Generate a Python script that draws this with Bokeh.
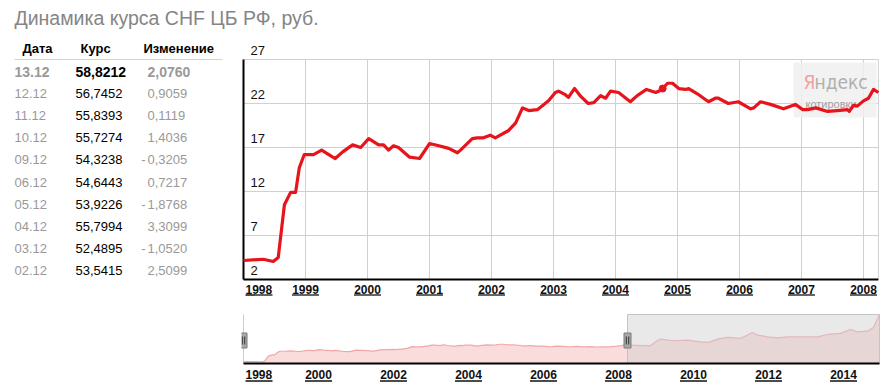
from bokeh.plotting import figure
from bokeh.layouts import column, row
from bokeh.models import Range1d
from bokeh.core.properties import value
from bokeh.embed import file_html
from bokeh.resources import INLINE

# ---------------- data ----------------
title_text = "Динамика курса CHF ЦБ РФ, руб."
header = ["Дата", "Курс", "Изменение"]
table_dates = ["13.12", "12.12", "11.12", "10.12", "09.12", "06.12", "05.12", "04.12", "03.12", "02.12"]
table_rates = ["58,8212", "56,7452", "55,8393", "55,7274", "54,3238", "54,6443", "53,9226", "55,7994", "52,4895", "53,5415"]
table_changes = [2.0760, 0.9059, 0.1119, 1.4036, -0.3205, 0.7217, -1.8768, 3.3099, -1.0520, 2.5099]

main_years = [1998.00, 1998.32, 1998.48, 1998.56, 1998.66, 1998.76, 1998.84, 1998.90, 1998.98,
              1999.13, 1999.26, 1999.44, 1999.48, 1999.60, 1999.76, 1999.89, 2000.02, 2000.18,
              2000.26, 2000.34, 2000.42, 2000.50, 2000.68, 2000.84, 2001.00, 2001.15, 2001.31,
              2001.45, 2001.50, 2001.69, 2001.77, 2001.87, 2001.98, 2002.06, 2002.27, 2002.39,
              2002.50, 2002.60, 2002.74, 2002.92, 2003.03, 2003.08, 2003.19, 2003.24, 2003.34,
              2003.44, 2003.56, 2003.65, 2003.76, 2003.84, 2003.92, 2004.05, 2004.24, 2004.35,
              2004.50, 2004.65, 2004.73, 2004.84, 2004.92, 2005.02, 2005.13, 2005.18, 2005.32,
              2005.50, 2005.61, 2005.66, 2005.82, 2005.98, 2006.18, 2006.23, 2006.34, 2006.50,
              2006.71, 2006.90, 2007.02, 2007.10, 2007.23, 2007.42, 2007.58, 2007.74, 2007.77,
              2007.84, 2007.90, 2008.00, 2008.08, 2008.16, 2008.24]
main_values = [4.16, 4.3, 4.05, 4.5, 10.5, 11.9, 11.9, 14.7, 16.2,
               16.2, 16.7, 15.9, 15.75, 16.5, 17.3, 17.0, 18.0, 17.3,
               17.3, 16.7, 17.2, 17.0, 15.9, 15.75, 17.45, 17.2, 16.9,
               16.4, 16.7, 18.0, 18.1, 18.1, 18.4, 18.1, 18.9, 19.8,
               21.5, 21.2, 21.3, 22.3, 23.25, 23.4, 23.0, 22.7, 23.7,
               22.8, 22.0, 22.1, 22.9, 22.6, 23.4, 23.25, 22.2, 22.9,
               23.6, 23.25, 23.5, 24.3, 24.3, 23.7, 23.6, 23.7, 23.1,
               22.2, 22.6, 22.6, 22.0, 22.2, 21.4, 21.5, 22.2, 21.9,
               21.4, 21.9, 21.3, 21.3, 21.5, 21.1, 21.2, 21.3, 21.1,
               21.8, 21.7, 22.3, 22.6, 23.6, 23.25]

nav_ext_years = [2008.29, 2008.85, 2008.99, 2009.12, 2009.47, 2009.84, 2010.19, 2010.40, 2010.64,
                 2010.91, 2011.25, 2011.57, 2011.71, 2011.97, 2012.24, 2012.51, 2012.85, 2013.31,
                 2013.57, 2013.92, 2014.19, 2014.37, 2014.64, 2014.80, 2014.96]
nav_ext_values = [23.3, 22.5, 27.1, 30.2, 28.3, 29.0, 27.1, 26.4, 30.2,
                  32.2, 31.0, 37.9, 34.8, 32.9, 31.7, 32.9, 32.9, 32.9,
                  35.6, 36.8, 41.4, 38.6, 39.4, 43.7, 58.7]

y_ticks = [2, 7, 12, 17, 22, 27]
main_year_ticks = list(range(1998, 2009))
nav_year_ticks = list(range(1998, 2015, 2))
marker_year = [2004.76]
marker_value = [23.7]

# ---------------- style / layout constants ----------------
FONT = value("Liberation Sans")
NARROW = value("'DejaVu Sans Condensed', 'Liberation Sans'")
RED = "#e8141c"
GRID = "#d0d0d0"
LEFT_W = 241
RIGHT_W = 644
TITLE_H = 35
MAIN_H = 265
NAV_H = 85

def lin(v0, p0, ppu, p, invert=False):
    return v0 + ((p0 - p) if invert else (p - p0)) / ppu

def bare(fig):
    fig.grid.visible = False
    fig.outline_line_color = None
    return fig

def mkfig(w, h, xr, yr):
    return bare(figure(width=w, height=h, output_backend="svg", toolbar_location=None,
                       x_range=xr, y_range=yr, x_axis_location=None, y_axis_location=None,
                       min_border=0, min_border_left=0, min_border_right=0,
                       min_border_top=0, min_border_bottom=0))

# ---------------- title figure ----------------
tf = mkfig(LEFT_W + RIGHT_W, TITLE_H, Range1d(0, LEFT_W + RIGHT_W), Range1d(TITLE_H, 0))
tf.text(x=[14], y=[17], text=[title_text], text_font=FONT, text_font_size=value("19.5px"),
        text_color="#858585", text_baseline="middle", text_align="left")

# ---------------- table figure ----------------
lf = mkfig(LEFT_W, MAIN_H + NAV_H, Range1d(0, LEFT_W), Range1d(TITLE_H + MAIN_H + NAV_H, TITLE_H))
HDR_Y = 48
ROW0 = 71
ROW_H = 22.1
COL_X = [22, 80, 143]
lf.text(x=COL_X, y=[HDR_Y] * 3, text=header, text_font=FONT, text_font_size=value("13px"),
        text_font_style="bold", text_color="#000000", text_baseline="middle", text_align="left")
lf.segment(x0=[14], y0=[59], x1=[222], y1=[59], line_color="#d4d4d4", line_width=1)

rows_y = [ROW0 + i * ROW_H for i in range(len(table_dates))]
chg_txt = [f"{abs(v):.4f}".replace(".", ",") for v in table_changes]
for i in range(len(table_dates)):
    first = i == 0
    fs = value("14px") if first else value("13px")
    st = "bold" if first else "normal"
    y = rows_y[i]
    lf.text(x=[14], y=[y], text=[table_dates[i]], text_font=FONT, text_font_size=fs,
            text_font_style=st, text_color="#999999", text_baseline="middle", text_align="left")
    lf.text(x=[75], y=[y], text=[table_rates[i]], text_font=FONT, text_font_size=fs,
            text_font_style=st, text_color="#000000", text_baseline="middle", text_align="left")
    lf.text(x=[147], y=[y], text=[chg_txt[i]], text_font=FONT, text_font_size=fs,
            text_font_style=st, text_color="#999999", text_baseline="middle", text_align="left")
    if table_changes[i] < 0:
        lf.text(x=[145], y=[y], text=["-"], text_font=FONT, text_font_size=fs,
                text_font_style=st, text_color="#999999", text_baseline="middle", text_align="right")

# ---------------- main chart ----------------
MX0, MPX0, MPPU = 1998.0, 243, 62.0
MY0, MPY0, MYPPU = 2.0, 279, 8.8
X_END = main_years[-1]
mf = mkfig(RIGHT_W, MAIN_H,
           Range1d(lin(MX0, MPX0, MPPU, LEFT_W), lin(MX0, MPX0, MPPU, LEFT_W + RIGHT_W)),
           Range1d(lin(MY0, MPY0, MYPPU, TITLE_H + MAIN_H, True), lin(MY0, MPY0, MYPPU, TITLE_H, True)))
ytop = y_ticks[-1]
ybot = y_ticks[0]
# grid
mf.segment(x0=[MX0] * (len(y_ticks) - 1), y0=y_ticks[1:], x1=[X_END] * (len(y_ticks) - 1), y1=y_ticks[1:],
           line_color=GRID, line_width=1)
mf.segment(x0=main_year_ticks[1:] + [X_END], y0=[ybot] * len(main_year_ticks),
           x1=main_year_ticks[1:] + [X_END], y1=[ytop] * len(main_year_ticks),
           line_color=GRID, line_width=1)
# Yandex watermark box
wx = lin(MX0, MPX0, MPPU, 834.5)
wy = lin(MY0, MPY0, MYPPU, 89.5, True)
mf.rect(x=[wx], y=[wy], width=83, height=55, width_units="screen", height_units="screen",
        fill_color="#f0f0f0", fill_alpha=0.85, line_color=None)
mf.text(x=[lin(MX0, MPX0, MPPU, 803)], y=[lin(MY0, MPY0, MYPPU, 81, True)], text=["Я"],
        text_font=NARROW, text_font_size=value("19px"),
        text_color="#f2a0a0", text_baseline="middle", text_align="left")
mf.text(x=[lin(MX0, MPX0, MPPU, 814)], y=[lin(MY0, MPY0, MYPPU, 81, True)], text=["ндекс"],
        text_font=NARROW, text_font_size=value("19px"),
        text_color="#b0b0b0", text_baseline="middle", text_align="left")
mf.text(x=[lin(MX0, MPX0, MPPU, 805)], y=[lin(MY0, MPY0, MYPPU, 103, True)], text=["котировки"],
        text_font=FONT, text_font_size=value("11px"),
        text_color="#a0a0a0", text_baseline="middle", text_align="left")
# axes lines
mf.segment(x0=[MX0], y0=[ybot], x1=[MX0], y1=[ytop], line_color="#000000", line_width=2)
mf.segment(x0=[MX0], y0=[ybot], x1=[X_END], y1=[ybot], line_color="#000000", line_width=2)
# series
mf.line(main_years, main_values, line_color=RED, line_width=3.2, line_join="round")
mf.scatter(marker_year, marker_value, size=7, fill_color=RED, line_color=RED)
# y labels (inside)
mf.text(x=[MX0] * len(y_ticks), y=y_ticks, text=[str(t) for t in y_ticks], x_offset=7, y_offset=-9.5,
        text_font=FONT, text_font_size=value("13px"), text_color="#111111",
        text_baseline="middle", text_align="left")
# x labels
mf.text(x=[main_year_ticks[0]], y=[ybot], text=[str(main_year_ticks[0])], x_offset=2, y_offset=9.5,
        text_font=FONT, text_font_size=value("12px"), text_font_style="bold", text_color="#111111",
        text_baseline="middle", text_align="left")
mf.text(x=main_year_ticks[1:], y=[ybot] * (len(main_year_ticks) - 1), text=[str(t) for t in main_year_ticks[1:]],
        y_offset=9.5, text_font=FONT, text_font_size=value("12px"), text_font_style="bold",
        text_color="#111111", text_baseline="middle", text_align="center")
ul_y = ybot - 15.5 / MYPPU
ul_x = [main_year_ticks[0] + 15.5 / MPPU] + main_year_ticks[1:]
mf.rect(x=ul_x, y=[ul_y] * len(ul_x), width=27, height=1.3, width_units="screen", height_units="screen",
        fill_color="#111111", line_color=None)

# ---------------- navigator ----------------
nav_years = main_years + nav_ext_years
nav_values = main_values + nav_ext_values
NX0, NPX0, NPPU = 1998.0, 243, 37.5
NAV_BASE = 2.0
NAV_TOP = max(nav_values)
NPY0 = 363
NYPPU = (363 - 314) / (NAV_TOP - NAV_BASE)
NAV_TOP_PX = TITLE_H + MAIN_H
nf = mkfig(RIGHT_W, NAV_H,
           Range1d(lin(NX0, NPX0, NPPU, LEFT_W), lin(NX0, NPX0, NPPU, LEFT_W + RIGHT_W)),
           Range1d(lin(NAV_BASE, NPY0, NYPPU, NAV_TOP_PX + NAV_H, True), lin(NAV_BASE, NPY0, NYPPU, NAV_TOP_PX, True)))
nf.varea(x=nav_years, y1=[NAV_BASE] * len(nav_years), y2=nav_values, fill_color="#fbdcdc")
nf.line(nav_years, nav_values, line_color="#f2a6a6", line_width=1.2)
sel_l, sel_r = X_END, nav_years[-1]
nf.quad(left=[sel_l], right=[sel_r], bottom=[NAV_BASE], top=[NAV_TOP],
        fill_color="#cfcfcf", fill_alpha=0.45, line_color="#c4c4c4", line_width=1)
nf.segment(x0=[NX0], y0=[NAV_BASE], x1=[NX0], y1=[NAV_TOP], line_color="#cccccc", line_width=1)
nf.segment(x0=[NX0], y0=[NAV_BASE], x1=[sel_r], y1=[NAV_BASE], line_color="#000000", line_width=2)
hy = lin(NAV_BASE, NPY0, NYPPU, 340, True)
nf.rect(x=[NX0, sel_l], y=[hy, hy], width=7, height=15, width_units="screen", height_units="screen",
        fill_color="#a8a8a8", line_color="#7a7a7a", line_width=1)
bars_x = []
for h in [NX0, sel_l]:
    bars_x += [h - 1.2 / NPPU, h + 1.2 / NPPU]
nf.rect(x=bars_x, y=[hy] * 4, width=1, height=8, width_units="screen", height_units="screen",
        fill_color="#333333", line_color=None)
nf.text(x=[nav_year_ticks[0]], y=[NAV_BASE], text=[str(nav_year_ticks[0])], x_offset=2, y_offset=11,
        text_font=FONT, text_font_size=value("12px"), text_font_style="bold", text_color="#111111",
        text_baseline="middle", text_align="left")
nf.text(x=nav_year_ticks[1:], y=[NAV_BASE] * (len(nav_year_ticks) - 1), text=[str(t) for t in nav_year_ticks[1:]],
        y_offset=11, text_font=FONT, text_font_size=value("12px"), text_font_style="bold",
        text_color="#111111", text_baseline="middle", text_align="center")
nul_y = NAV_BASE - 17.5 / NYPPU
nul_x = [nav_year_ticks[0] + 15.5 / NPPU] + nav_year_ticks[1:]
nf.rect(x=nul_x, y=[nul_y] * len(nul_x), width=27, height=1.3, width_units="screen", height_units="screen",
        fill_color="#111111", line_color=None)

layout = column(tf, row(lf, column(mf, nf, spacing=0), spacing=0), spacing=0)
open("out.html", "w").write(file_html(layout, INLINE))
